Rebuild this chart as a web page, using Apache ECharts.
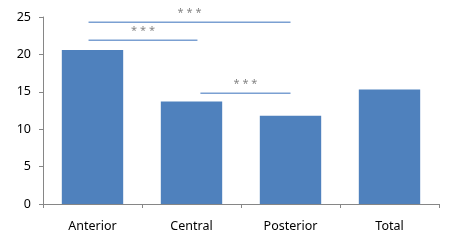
<!DOCTYPE html>
<html><head><meta charset="utf-8">
<script src="https://cdn.jsdelivr.net/npm/echarts@6/dist/echarts.min.js"></script>
<style>html,body{margin:0;padding:0;background:#fff}#c{width:456px;height:251px}</style>
</head><body><div id="c"></div>
<script>
const categories = ['Anterior', 'Central', 'Posterior', 'Total'];
const values = [20.6, 13.7, 11.8, 15.3];
const yMin = 0, yMax = 25, yInterval = 5;
// significance brackets: start/end in category units, height in y units
const sigStart = [-0.04, -0.04, 1.09];
const sigEnd = [2.0, 1.06, 2.0];
const sigHeight = [24.3, 21.9, 14.8];
const sigLabel = ['* * *', '* * *', '* * *'];

const font = 'Noto Sans';
const chart = echarts.init(document.getElementById('c'), null, {renderer: 'canvas'});
const series = [{
  type: 'bar', data: values, xAxisIndex: 0, yAxisIndex: 0,
  barCategoryGap: '38%', itemStyle: {color: '#4f81bd'}, silent: true
}];
sigHeight.forEach((h, i) => {
  series.push({
    type: 'line', xAxisIndex: 1, yAxisIndex: 0, silent: true,
    symbol: 'none', lineStyle: {color: '#7ba0d2', width: 1.5},
    data: [[sigStart[i], h], [sigEnd[i], h]]
  });
  series.push({
    type: 'scatter', xAxisIndex: 1, yAxisIndex: 0, silent: true,
    symbolSize: 0,
    data: [[(sigStart[i] + sigEnd[i]) / 2, h]],
    label: {show: true, position: 'top', distance: 4, formatter: sigLabel[i],
      color: '#666', fontSize: 11, fontFamily: font}
  });
});
chart.setOption({
  animation: false,
  grid: {left: 43, right: 17, top: 17, bottom: 47},
  xAxis: [{
    type: 'category', data: categories,
    axisLine: {lineStyle: {color: '#868686'}},
    axisTick: {show: true, length: 4, lineStyle: {color: '#868686'}},
    axisLabel: {color: '#000', fontSize: 12.5, fontFamily: font, margin: 16}
  }, {
    type: 'value', min: -0.5, max: 3.5, show: false
  }],
  yAxis: {
    type: 'value', min: yMin, max: yMax, interval: yInterval,
    axisLine: {show: true, onZero: false, lineStyle: {color: '#868686'}},
    axisTick: {show: true, length: 4, lineStyle: {color: '#868686'}},
    splitLine: {show: false},
    axisLabel: {color: '#000', fontSize: 12.5, fontFamily: font, margin: 12}
  },
  series: series
});
</script></body></html>
